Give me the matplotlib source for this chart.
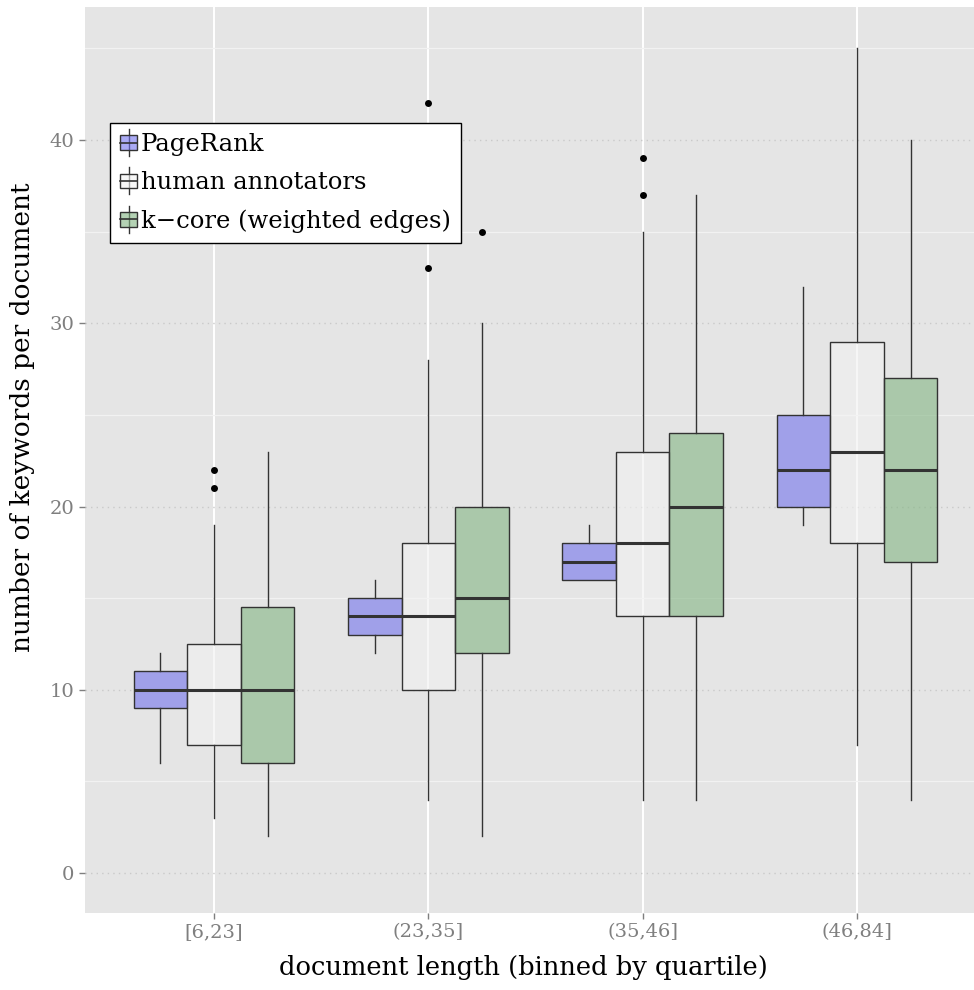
import numpy as np
import matplotlib
matplotlib.use('Agg')
import matplotlib.pyplot as plt
import matplotlib.colors as colors
from matplotlib.legend_handler import HandlerBase
from matplotlib.patches import Rectangle, Patch
from matplotlib.lines import Line2D

plt.rcParams['font.family'] = ['DejaVu Serif']

# data: one entry per length bin
bins = ['[6,23]', '(23,35]', '(35,46]', '(46,84]']
methods = ['PageRank', 'human annotators', 'k\u2212core (weighted edges)']

pagerank_lo = [6, 12, 16, 19]
pagerank_q1 = [9, 13, 16, 20]
pagerank_med = [10, 14, 17, 22]
pagerank_q3 = [11, 15, 18, 25]
pagerank_hi = [12, 16, 19, 32]
pagerank_out = [[], [], [], []]

human_lo = [3, 4, 4, 7]
human_q1 = [7, 10, 14, 18]
human_med = [10, 14, 18, 23]
human_q3 = [12.5, 18, 23, 29]
human_hi = [19, 28, 35, 45]
human_out = [[21, 22], [33, 42], [37, 39], []]

kcore_lo = [2, 2, 4, 4]
kcore_q1 = [6, 12, 14, 17]
kcore_med = [10, 15, 20, 22]
kcore_q3 = [14.5, 20, 24, 27]
kcore_hi = [23, 30, 37, 40]
kcore_out = [[], [35], [], []]

fills = ['#7272ED', '#F2F2F2', '#83B583']
offsets = [-0.25, 0.0, 0.25]
edge = '#333333'


def make_stats(lo, q1, med, q3, hi, out):
    return [dict(whislo=lo[i], q1=q1[i], med=med[i], q3=q3[i], whishi=hi[i],
                 fliers=out[i]) for i in range(len(lo))]


series = [
    make_stats(pagerank_lo, pagerank_q1, pagerank_med, pagerank_q3, pagerank_hi, pagerank_out),
    make_stats(human_lo, human_q1, human_med, human_q3, human_hi, human_out),
    make_stats(kcore_lo, kcore_q1, kcore_med, kcore_q3, kcore_hi, kcore_out),
]


class BoxHandler(HandlerBase):
    # little boxplot glyph as legend key, like ggplot
    def create_artists(self, legend, orig_handle, xdescent, ydescent,
                       width, height, fontsize, trans):
        fc = orig_handle.get_facecolor()
        x0 = -xdescent
        cx = x0 + width / 2
        cy = -ydescent + height / 2
        bh = height * 0.85
        wh = Line2D([cx, cx], [cy - height * 0.8, cy + height * 0.8],
                    color=edge, lw=1, transform=trans)
        rect = Rectangle((x0, cy - bh / 2), width, bh, facecolor=fc,
                         edgecolor=edge, lw=1, transform=trans)
        med = Line2D([x0, x0 + width], [cy, cy], color=edge, lw=1.2, transform=trans)
        return [wh, rect, med]


fig = plt.figure(figsize=(9.74, 9.90), dpi=100)
ax = fig.add_axes([85 / 974, 77 / 990, 889 / 974, 906 / 990])
ax.set_facecolor('#E5E5E5')
for s in ax.spines.values():
    s.set_visible(False)

pos = np.arange(1, len(bins) + 1)
handles = []
for k in range(len(methods)):
    fc = colors.to_rgba(fills[k], 0.6)
    ax.bxp(series[k], positions=pos + offsets[k], widths=0.25, patch_artist=True,
           showcaps=False, manage_ticks=False,
           boxprops=dict(facecolor=fc, edgecolor=edge, lw=1),
           whiskerprops=dict(color=edge, lw=1),
           medianprops=dict(color=edge, lw=2.2),
           flierprops=dict(marker='o', markerfacecolor='black', markeredgecolor='none',
                           markersize=5),
           zorder=3)
    handles.append(Patch(facecolor=fc, edgecolor=edge))

ax.set_xlim(0.398, 4.546)
ax.set_ylim(-2.18, 47.26)
ax.set_xticks(pos)
ax.set_xticklabels(bins)
ax.set_yticks([0, 10, 20, 30, 40])
ax.set_yticks([5, 15, 25, 35, 45], minor=True)

ax.set_axisbelow(True)
ax.grid(which='major', axis='x', color='white', lw=1.4)
ax.grid(which='major', axis='y', color='#C9C9C9', lw=1, linestyle=(0, (1, 3)))
ax.grid(which='minor', axis='y', color='#F2F2F2', lw=0.9)

ax.tick_params(which='major', colors='#7F7F7F', labelcolor='#7F7F7F',
               length=4, width=1, labelsize=14)
ax.tick_params(which='minor', length=0)

ax.set_xlabel('document length (binned by quartile)', fontsize=18.5)
ax.set_ylabel('number of keywords per document', fontsize=19)
ax.xaxis.set_label_coords((523 - 85) / 889, -42 / 906)
ax.yaxis.set_label_coords(-50 / 889, (913 - 417) / 906)

leg = ax.legend(handles, methods, handler_map={Patch: BoxHandler()},
                loc='upper left', bbox_to_anchor=(0.028, 0.872), borderaxespad=0,
                fontsize=17.5, frameon=True, fancybox=False, edgecolor='black',
                facecolor='white', framealpha=1, handlelength=0.7,
                handletextpad=0.15, labelspacing=0.62, borderpad=0.42)
leg.get_frame().set_linewidth(1)
leg.set_zorder(5)

fig.savefig('out.png', dpi=100)
